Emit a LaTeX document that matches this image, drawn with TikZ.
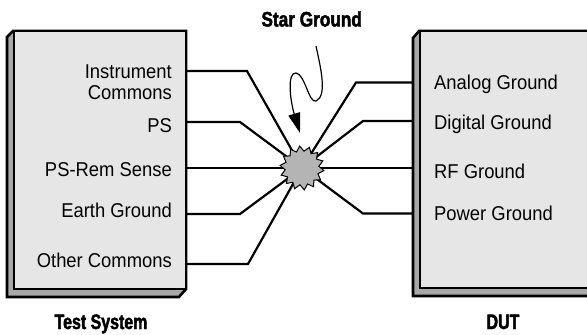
\documentclass[tikz,border=0pt]{standalone}
\usepackage{fontspec}
\setmainfont[FakeStretch=0.92]{Liberation Sans}
\newfontfamily\titlefont[FakeStretch=0.76,FakeBold=2]{Liberation Sans Bold}
\newfontfamily\startitlefont[FakeStretch=0.82,FakeBold=2]{Liberation Sans Bold}
\usetikzlibrary{shapes.geometric,arrows.meta}
\definecolor{facec}{HTML}{E6E6E6}
\definecolor{shadowc}{HTML}{A8A8A8}
\definecolor{starc}{HTML}{B4B4B4}
\begin{document}
\begin{tikzpicture}[x=1pt,y=-1pt,
  lbl/.style={inner sep=0pt,font=\fontsize{20}{24}\selectfont},
  ttl/.style={inner sep=0pt,font=\fontsize{21}{25}\selectfont\titlefont},
  wire/.style={line width=2.2pt,line join=miter},
  outer/.style={fill=shadowc,draw=black,line width=2.6pt,line join=miter},
  face/.style={fill=facec,draw=black,line width=1.3pt},
  starnode/.style={star,star points=14,star point ratio=1.3,minimum size=44pt,inner sep=0pt,fill=starc,draw=black,line width=1pt}]
\useasboundingbox (0,0) rectangle (587,335);
\clip (0,0) rectangle (587,335);
% left box
\draw[outer] (7,37) -- (13,31) -- (186,31) -- (186,289) -- (179,297) -- (7,297) -- cycle;
\draw[face] (14,31) rectangle (186,289);
% right box
\draw[outer] (413,38) -- (419,31) -- (600,31) -- (600,296) -- (413,296) -- cycle;
\draw[face] (420,31) rectangle (600,288);
% labels left
\node[lbl,anchor=base east] (t1a) at (172,78) {Instrument};
\node[lbl,anchor=base east] (t1b) at (172,99) {Commons};
\node[lbl,anchor=base east] (t2) at (172,132) {PS};
\node[lbl,anchor=base east] (t3) at (172,176) {PS-Rem Sense};
\node[lbl,anchor=base east] (t4) at (172,217.5) {Earth Ground};
\node[lbl,anchor=base east] (t5) at (172,267.5) {Other Commons};
% labels right
\node[lbl,anchor=base west] (r1) at (434,89) {Analog Ground};
\node[lbl,anchor=base west] (r2) at (434,129.5) {Digital Ground};
\node[lbl,anchor=base west] (r3) at (434,178) {RF Ground};
\node[lbl,anchor=base west] (r4) at (434,220) {Power Ground};
% titles
\node[ttl,anchor=base] (tsys) at (101,329) {Test System};
\node[ttl,anchor=base] (tdut) at (503,329) {DUT};
\node[inner sep=0pt,font=\fontsize{21}{25}\selectfont\startitlefont,anchor=base] (tstar) at (311.7,26.5) {Star Ground};
% ports and bends
\coordinate (sc) at (302,168);
\coordinate (pl1) at (186,71);  \coordinate (bl1) at (247,71);
\coordinate (pl2) at (186,122); \coordinate (bl2) at (240,122);
\coordinate (pl3) at (186,168);
\coordinate (pl4) at (186,214); \coordinate (bl4) at (240,214);
\coordinate (pl5) at (186,264); \coordinate (bl5) at (248,264);
\coordinate (pr1) at (413,82.5);  \coordinate (br1) at (356,82.5);
\coordinate (pr2) at (413,121);   \coordinate (br2) at (363,121);
\coordinate (pr3) at (413,168);
\coordinate (pr4) at (413,213.5); \coordinate (br4) at (363,213.5);
\draw[wire] (pl1) -- (bl1) -- (sc);
\draw[wire] (pl2) -- (bl2) -- (sc);
\draw[wire] (pl3) -- (sc);
\draw[wire] (pl4) -- (bl4) -- (sc);
\draw[wire] (pl5) -- (bl5) -- (sc);
\draw[wire] (pr1) -- (br1) -- (sc);
\draw[wire] (pr2) -- (br2) -- (sc);
\draw[wire] (pr3) -- (sc);
\draw[wire] (pr4) -- (br4) -- (sc);
\node[starnode,rotate=6] (star) at (sc) {};
% squiggle arrow
\coordinate (sq0) at (316,46);
\coordinate (sq1) at (316,101);
\coordinate (sq2) at (296,73);
\coordinate (sqt) at (300,133);
\draw[line width=1.2pt,-{Triangle[length=20pt,width=12pt]}]
  (sq0) .. controls (320,65) and (328,96) .. (sq1)
        .. controls (309,104) and (305,74) .. (sq2)
        .. controls (287,72) and (290,100) .. (sqt);
\end{tikzpicture}
\end{document}
